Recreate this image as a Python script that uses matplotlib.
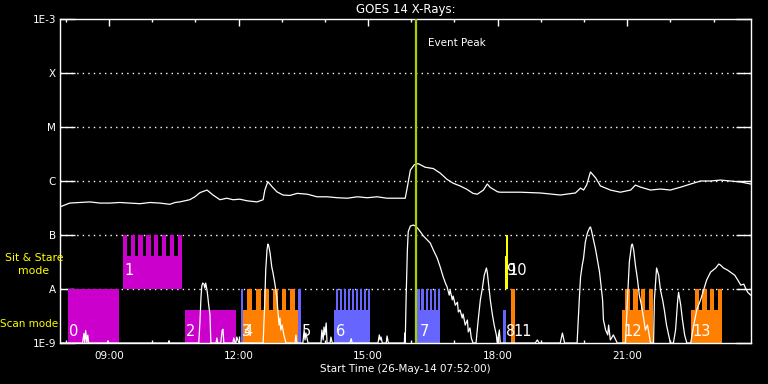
import numpy as np
import matplotlib
matplotlib.use('Agg')
import matplotlib.pyplot as plt
from matplotlib.ticker import FixedLocator, FuncFormatter, NullFormatter

# time axis in decimal hours, start 26-May-14 07:52
t_start = 7 + 52 / 60.
t_end = t_start + 16

# GOES 14 long channel (W/m^2)
goes_t = [7.86, 8.09, 8.32, 8.56, 8.79, 9.02, 9.25, 9.48, 9.72, 9.95, 10.18, 10.41, 10.53, 10.64,
          10.87, 10.99, 11.11, 11.27, 11.41, 11.57, 11.73, 11.87, 12.03, 12.20, 12.43, 12.57, 12.61,
          12.68, 12.78, 12.89, 13.03, 13.19, 13.36, 13.59, 13.82, 14.05, 14.29, 14.52, 14.75, 14.98,
          15.21, 15.44, 15.74, 15.86, 15.91, 15.98, 16.07, 16.16, 16.32, 16.51, 16.67, 16.83, 16.97,
          17.13, 17.29, 17.43, 17.53, 17.67, 17.76, 17.83, 18.00, 18.06, 18.53, 18.99, 19.45, 19.80,
          19.92, 19.99, 20.06, 20.15, 20.27, 20.38, 20.61, 20.84, 21.08, 21.19, 21.31, 21.54, 21.77,
          22.00, 22.24, 22.47, 22.70, 22.93, 23.16, 23.39, 23.62, 23.86]
goes_flux = [3.3e-7, 3.9e-7, 4.0e-7, 4.1e-7, 3.9e-7, 3.9e-7, 4.0e-7, 3.9e-7, 3.8e-7, 4.0e-7, 3.9e-7,
             3.7e-7, 4.0e-7, 4.1e-7, 4.5e-7, 5.1e-7, 6.1e-7, 6.8e-7, 5.5e-7, 4.5e-7, 4.8e-7, 4.5e-7,
             4.6e-7, 4.3e-7, 4.1e-7, 4.5e-7, 6.8e-7, 9.7e-7, 7.8e-7, 6.3e-7, 5.5e-7, 5.4e-7, 5.9e-7,
             5.7e-7, 5.1e-7, 5.1e-7, 4.9e-7, 4.8e-7, 5.1e-7, 4.9e-7, 5.1e-7, 4.8e-7, 4.8e-7, 4.8e-7,
             7.8e-7, 1.6e-6, 2.0e-6, 2.1e-6, 1.8e-6, 1.7e-6, 1.4e-6, 1.07e-6, 9.1e-7, 8.1e-7, 7.0e-7,
             5.9e-7, 5.7e-7, 6.8e-7, 8.8e-7, 7.6e-7, 6.3e-7, 6.2e-7, 6.2e-7, 6.0e-7, 5.5e-7, 6.0e-7,
             7.4e-7, 6.8e-7, 8.4e-7, 1.47e-6, 1.14e-6, 8.1e-7, 6.8e-7, 6.2e-7, 6.8e-7, 8.4e-7, 7.7e-7,
             6.8e-7, 7.1e-7, 6.8e-7, 7.7e-7, 8.8e-7, 1.0e-6, 1.0e-6, 1.04e-6, 1.0e-6, 9.6e-7, 8.8e-7]

# lower trace (flux change, clipped at 1E-9)
dif_t = [7.86, 8.39, 8.42, 8.44, 8.46, 8.49, 8.51, 8.53, 8.97, 8.98, 8.99, 10.38, 10.39, 10.40,
         11.08, 11.11, 11.13, 11.15, 11.17, 11.20, 11.22, 11.24, 11.27, 11.29, 11.31, 11.34, 11.36,
         11.48, 11.50, 11.52, 11.59, 11.62, 11.64, 11.66, 11.87, 11.89, 11.92, 11.94, 11.96, 12.01,
         12.57, 12.61, 12.63, 12.66, 12.68, 12.70, 12.73, 12.77, 12.80, 12.84, 12.89, 12.91, 12.94,
         12.96, 12.98, 13.01, 13.05, 13.10, 13.31, 13.33, 13.35, 13.49, 13.52, 13.54, 13.56, 13.61,
         13.91, 13.93, 13.96, 13.98, 14.00, 14.03, 14.05, 14.12, 14.14, 14.17, 14.58, 14.61, 14.63,
         15.23, 15.26, 15.28, 15.30, 15.33, 15.42, 15.44, 15.47, 15.84, 15.85, 15.86,
         15.88, 15.91, 15.93, 15.98, 16.05, 16.09, 16.14, 16.21, 16.28, 16.37, 16.44, 16.51, 16.60,
         16.67, 16.74, 16.79, 16.83, 16.88, 16.90, 16.95, 16.97, 17.02, 17.07, 17.09, 17.13, 17.18,
         17.20, 17.25, 17.30, 17.32, 17.36, 17.39, 17.43, 17.50, 17.55, 17.60, 17.64, 17.69, 17.74,
         17.76, 17.78, 17.83, 17.88, 17.92, 17.97, 17.99, 18.04, 18.06, 18.87, 18.92, 18.96, 19.45,
         19.50, 19.55, 19.84, 19.89, 19.92, 19.96, 19.99, 20.03, 20.08, 20.13, 20.15, 20.17, 20.22,
         20.27, 20.31, 20.36, 20.38, 20.43, 20.45, 20.50, 20.55, 20.57, 20.61, 20.68, 20.77, 20.96,
         21.00, 21.05, 21.10, 21.12, 21.15, 21.19, 21.24, 21.28, 21.33, 21.38, 21.42, 21.47, 21.54,
         21.61, 21.63, 21.68, 21.73, 21.77, 21.82, 21.86, 21.91, 21.96, 22.00, 22.07, 22.12, 22.17,
         22.19, 22.24, 22.28, 22.33, 22.38, 22.47, 22.54, 22.61, 22.70, 22.77, 22.84, 22.93, 23.05,
         23.12, 23.16, 23.23, 23.32, 23.39, 23.49, 23.56, 23.63, 23.70, 23.74, 23.79, 23.86]
dif_flux = [1e-9, 1e-9, 1.5e-9, 1e-9, 1.7e-9, 1e-9, 1.4e-9, 1e-9, 1e-9, 1.1e-9, 1e-9, 1e-9, 1.1e-9, 1e-9,
            1e-9, 2.7e-9, 6.8e-9, 1.13e-8, 1.29e-8, 1.23e-8, 1.04e-8, 1.29e-8, 9.6e-9, 7.1e-9, 5.0e-9,
            3.3e-9, 1e-9,
            1e-9, 1.24e-9, 1e-9, 1e-9, 1.7e-9, 1.8e-9, 1e-9, 1e-9, 1.24e-9, 1e-9, 1e-9, 1.29e-9, 1e-9,
            1e-9, 6.3e-9, 2.25e-8, 5.3e-8, 6.8e-8, 6.3e-8, 4.7e-8, 2.56e-8, 1.97e-8, 1.29e-8, 6.8e-9,
            4.1e-9, 2.15e-9, 2.9e-9, 1.74e-9, 2.15e-9, 1.41e-9, 1e-9, 1e-9, 1.41e-9, 1e-9,
            1e-9, 1.74e-9, 1.14e-9, 1.53e-9, 1e-9,
            1e-9, 1.74e-9, 1.14e-9, 1.98e-9, 1.41e-9, 2.35e-9, 1e-9, 1e-9, 1.29e-9, 1e-9, 1e-9, 1.2e-9, 1e-9,
            1e-9, 1.41e-9, 1.14e-9, 1.29e-9, 1e-9, 1e-9, 1.35e-9, 1e-9, 1e-9, 1.53e-9, 1e-9,
            6.3e-9, 5.3e-8, 1.15e-7, 1.47e-7, 1.53e-7, 1.47e-7, 1.36e-7, 1.15e-7, 9.6e-8, 8.1e-8, 7.1e-8,
            5.3e-8, 3.75e-8, 2.56e-8, 1.67e-8, 1.29e-8, 1.09e-8, 7.7e-9, 9.6e-9, 6.3e-9, 7.4e-9, 5.0e-9,
            5.7e-9, 3.75e-9, 4.1e-9, 2.9e-9, 3.45e-9, 2.15e-9, 2.67e-9, 1.6e-9, 1.9e-9, 1.24e-9, 1e-9,
            1e-9, 2.67e-9, 6.3e-9, 9.6e-9, 1.8e-8, 2.45e-8, 2.05e-8, 1.47e-8, 6.3e-9, 3.3e-9, 2.15e-9,
            1.41e-9, 1e-9, 1.74e-9, 1e-9, 1e-9, 1.14e-9, 1e-9, 1e-9, 1.53e-9, 1e-9,
            1e-9, 6.3e-9, 1.67e-8, 2.78e-8, 3.75e-8, 7.4e-8, 1.1e-7, 1.36e-7, 1.41e-7, 1.24e-7, 8.1e-8,
            5.3e-8, 3.44e-8, 2.05e-8, 1.47e-8, 6.3e-9, 2.67e-9, 1.74e-9, 1.41e-9, 2.15e-9, 1.14e-9,
            1.41e-9, 1e-9, 1e-9,
            5.0e-9, 3.2e-8, 6.5e-8, 6.8e-8, 5.3e-8, 2.78e-8, 1.47e-8, 7.7e-9, 5.0e-9, 2.9e-9, 1.74e-9,
            2.15e-9, 1e-9,
            1e-9, 6.3e-9, 2.45e-8, 1.8e-8, 9.6e-9, 6.3e-9, 4.1e-9, 2.15e-9, 1.41e-9, 1e-9, 1e-9, 1.74e-9,
            6.3e-9, 8.7e-9, 5.0e-9, 2.67e-9, 1.41e-9, 1e-9, 1e-9, 2.15e-9, 4.1e-9, 6.3e-9, 9.6e-9,
            1.47e-8, 2.05e-8, 2.45e-8, 2.9e-8, 2.78e-8, 2.45e-8, 2.25e-8, 2.05e-8, 1.8e-8, 1.47e-8,
            1.18e-8, 1.23e-8, 1.04e-8, 8.7e-9, 7.7e-9]

# IRIS observations: mode 0 = scan, 1 = sit & stare
obs_start = [8.05, 9.32, 10.76, 12.06, 12.10, 13.38, 14.21, 16.13, 18.13, 18.16, 18.30, 20.87, 22.47]
obs_end = [9.23, 10.69, 11.94, 12.10, 13.38, 13.45, 15.05, 16.67, 18.20, 18.23, 18.41, 21.60, 23.20]
obs_mode = [0, 1, 0, 0, 0, 0, 0, 0, 0, 1, 0, 0, 0]
obs_color = ['#cc00cc', '#cc00cc', '#cc00cc', '#6666ff', '#ff8000', '#6666ff', '#6666ff',
             '#6666ff', '#6666ff', '#ffff00', '#ff8000', '#ff8000', '#ff8000']
n_rasters = [1, 8, 0, 1, 6, 1, 9, 6, 0, 1, 1, 4, 4]
rast_first = [8.05, 9.32, 10.76, 12.06, 12.20, 13.38, 14.26, 16.14, 18.13, 18.20, 18.30, 20.96, 22.56]
rast_last = [9.23, 10.69, 11.94, 12.10, 13.31, 13.45, 15.05, 16.67, 18.20, 18.23, 18.41, 21.60, 23.20]

obs_labels = ['0', '1', '2', '3', '4', '5', '6', '7', '8', '9', '10', '11', '12', '13']
label_t = [8.07, 9.37, 10.78, 12.08, 12.12, 13.47, 14.26, 16.19, 18.20, 18.19, 18.26, 18.36, 20.91, 22.51]
label_mode = [0, 1, 0, 0, 0, 0, 0, 0, 0, 1, 1, 0, 0, 0]

peak_t = 16 + 6.5 / 60.

level_names = ['1E-9', 'A', 'B', 'C', 'M', 'X', '1E-3']
level_vals = [1e-9, 1e-8, 1e-7, 1e-6, 1e-5, 1e-4, 1e-3]

fig = plt.figure(figsize=(7.68, 3.84), dpi=100, facecolor='black')
ax = fig.add_axes([60 / 768, 41 / 384, 691 / 768, 324 / 384])
ax.set_facecolor('black')
ax.set_yscale('log')
ax.set_xlim(t_start, t_end)
ax.set_ylim(1e-9, 1e-3)

# dotted grid at the flare classes
for v in level_vals[1:-1]:
    ax.axhline(v, color='white', lw=1.0, ls=(0, (1, 3)), zorder=1)

duty = 0.55
block_frac = 10 ** 0.61
for i in range(len(obs_start)):
    base = level_vals[obs_mode[i]]
    c = obs_color[i]
    ax.bar(obs_start[i], base * block_frac - base, width=obs_end[i] - obs_start[i], bottom=base,
           align='edge', color=c, lw=0, zorder=2)
    n = n_rasters[i]
    if n == 0:
        continue
    span = rast_last[i] - rast_first[i]
    pitch = span / (n - 1 + duty)
    tw = duty * pitch if n > 1 else span
    for k in range(n):
        ax.bar(rast_first[i] + k * pitch, base * 10 - base * block_frac, width=tw,
               bottom=base * block_frac, align='edge', color=c, lw=0, zorder=2)

ax.plot(goes_t, goes_flux, color='white', lw=0.9, zorder=3)
ax.plot(dif_t, dif_flux, color='white', lw=0.9, zorder=3)

ax.axvline(peak_t, color='#a4d000', lw=1.6, zorder=4)
ax.text(peak_t + 0.27, 10 ** -3.45, 'Event Peak', color='white', fontsize=7.5, va='center')

for s, t, m in zip(obs_labels, label_t, label_mode):
    yb = level_vals[m] * (10 ** 0.07 if m == 0 else 10 ** 0.2)
    ax.text(t, yb, s, color='white', fontsize=10.5, va='bottom', ha='left', zorder=5)

for sp in ax.spines.values():
    sp.set_color('white')
    sp.set_linewidth(1.0)

ax.yaxis.set_major_locator(FixedLocator(level_vals))
ax.yaxis.set_major_formatter(FuncFormatter(lambda v, p: level_names[int(round(np.log10(v))) + 9]))
ax.yaxis.set_minor_locator(FixedLocator([]))
ax.tick_params(axis='y', which='major', direction='in', length=10.5, width=1.0, colors='white',
               labelsize=7.5, left=True, right=True, pad=3)

ax.xaxis.set_major_locator(FixedLocator([9, 12, 15, 18, 21]))
ax.xaxis.set_minor_locator(FixedLocator(list(range(8, 24))))
ax.xaxis.set_major_formatter(FuncFormatter(lambda v, p: '%02d:00' % int(round(v))))
ax.xaxis.set_minor_formatter(NullFormatter())
ax.tick_params(axis='x', which='major', direction='in', length=5, width=1.0, colors='white',
               labelsize=7.5, top=True, bottom=True, pad=6)
ax.tick_params(axis='x', which='minor', direction='in', length=2.5, width=1.0, colors='white',
               top=True, bottom=True)

ax.set_title('GOES 14 X-Rays:', color='white', fontsize=8.5, pad=4)
ax.set_xlabel('Start Time (26-May-14 07:52:00)', color='white', fontsize=7.5, labelpad=2)

fig.text(34 / 768, 1 - 258 / 384, 'Sit & Stare', color='#ffff00', fontsize=7.8, ha='center', va='center')
fig.text(34 / 768, 1 - 271 / 384, 'mode', color='#ffff00', fontsize=7.8, ha='center', va='center')
fig.text(29 / 768, 1 - 324 / 384, 'Scan mode', color='#ffff00', fontsize=7.5, ha='center', va='center')

fig.savefig('out.png', dpi=100, facecolor='black')
